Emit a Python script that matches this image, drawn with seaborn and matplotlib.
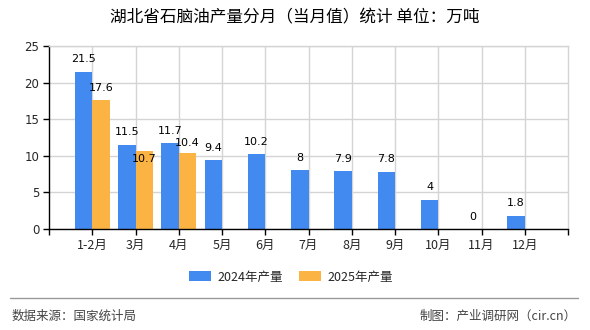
import matplotlib
matplotlib.use('Agg')
import numpy as np
import pandas as pd
import matplotlib.pyplot as plt
import seaborn as sns
from matplotlib.lines import Line2D
from matplotlib.patches import Patch

# ---- data ----
months = ['1-2月', '3月', '4月', '5月', '6月', '7月', '8月', '9月', '10月', '11月', '12月']
values_2024 = [21.5, 11.5, 11.7, 9.4, 10.2, 8, 7.9, 7.8, 4, 0, 1.8]
values_2025 = [17.6, 10.7, 10.4]
series_names = ['2024年产量', '2025年产量']
y_ticks = [0, 5, 10, 15, 20, 25]

title = '湖北省石脑油产量分月（当月值）统计 单位：万吨'
source_text = '数据来源：国家统计局'
credit_text = '制图：产业调研网（cir.cn）'

# ---- styles ----
colors = ['#438AF0', '#FBB443']
grid_color = '#d4d4d4'
# per-label vertical offsets (points) for labels that are moved to avoid overlap
label_offset_default = 9.0
label_offset_special = {(1, 1): -5.8, (1, 2): 7.2}

rows = [(m, series_names[0], v) for m, v in zip(months, values_2024)]
rows += [(m, series_names[1], v) for m, v in zip(months, values_2025)]
df = pd.DataFrame(rows, columns=['month', 'series', 'value'])

sns.set_style('white')
plt.rcParams['font.family'] = ['Noto Sans CJK SC', 'DejaVu Sans']

fig = plt.figure(figsize=(5.9, 3.3), dpi=100)
ax = fig.add_axes([49 / 590, 1 - 229 / 330, 519 / 590, 183 / 330])
ax.set_axisbelow(True)

sns.barplot(data=df, x='month', y='value', hue='series', order=months,
            hue_order=series_names, palette=colors, saturation=1, width=0.8,
            errorbar=None, ax=ax, legend=False, zorder=2,
            linewidth=0, edgecolor='none')

ax.set_xlim(-1, 11)
ax.set_ylim(0, 25)
ax.set_xticks(range(len(months)))
ax.set_xticklabels(months, fontsize=9)
ax.set_xticks([-1, 11], minor=True)
ax.set_yticks(y_ticks)
ax.set_yticklabels([str(t) for t in y_ticks], fontsize=8.5, family='DejaVu Sans')
ax.set_xlabel('')
ax.set_ylabel('')
ax.tick_params(axis='x', which='both', bottom=True, direction='out', length=4,
               width=1, color='black', pad=3)
ax.tick_params(axis='y', left=True, direction='out', length=4, width=1,
               color='black', pad=3)
ax.grid(True, which='major', color=grid_color, lw=1)

for s in ['left', 'bottom']:
    ax.spines[s].set_color('black')
    ax.spines[s].set_linewidth(1)
for s in ['top', 'right']:
    ax.spines[s].set_color(grid_color)
    ax.spines[s].set_linewidth(1)

for si, cont in enumerate(ax.containers):
    for bi, bar in enumerate(cont):
        h = bar.get_height()
        if np.isnan(h):
            continue
        x = bar.get_x() + bar.get_width() / 2
        dy = label_offset_special.get((si, bi), label_offset_default)
        ax.annotate(f'{h:g}', (x, h), xytext=(0, dy), textcoords='offset points',
                    ha='center', va='center', fontsize=8, family='DejaVu Sans',
                    color='black', zorder=5)

fig.text(294.5 / 590, 1 - 18 / 330, title, ha='center', va='center',
         fontsize=12, color='black')

handles = [Patch(facecolor=c, edgecolor='none') for c in colors]
fig.legend(handles=handles, labels=series_names, loc='center',
           bbox_to_anchor=(291 / 590, 1 - 277 / 330), ncol=2, frameon=False,
           fontsize=9, handlelength=1.75, handleheight=0.9, handletextpad=0.5,
           columnspacing=1.3)

fig.add_artist(Line2D([10 / 590, 578 / 590], [1 - 298 / 330] * 2,
                      color='#999999', lw=1, transform=fig.transFigure))
fig.text(12 / 590, 1 - 316 / 330, source_text, ha='left', va='center',
         fontsize=9, color='#444444')
fig.text(577 / 590, 1 - 316 / 330, credit_text, ha='right', va='center',
         fontsize=9, color='#444444')

fig.savefig('out.png', dpi=100)
